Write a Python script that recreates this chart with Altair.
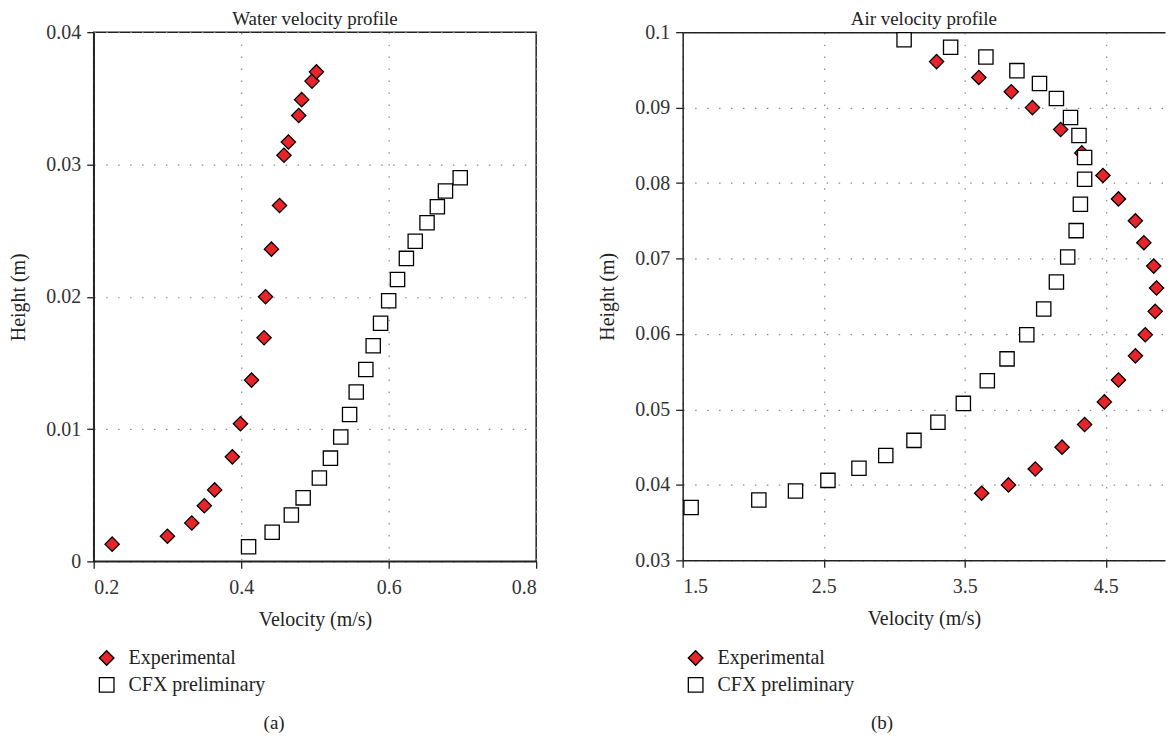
import altair as alt
import pandas as pd

# ---------------- data ----------------
series_names = ["Experimental", "CFX preliminary"]

# (a) Water velocity profile
water_exp_v = [0.225, 0.300, 0.333, 0.350, 0.364, 0.388, 0.399, 0.414, 0.431, 0.433,
               0.441, 0.452, 0.458, 0.464, 0.478, 0.482, 0.496, 0.502]
water_exp_h = [0.0013, 0.0019, 0.0029, 0.0042, 0.0054, 0.0079, 0.0104, 0.0137, 0.0169, 0.0200,
               0.0236, 0.0269, 0.0307, 0.0317, 0.0337, 0.0349, 0.0363, 0.0370]
water_cfx_v = [0.410, 0.442, 0.468, 0.484, 0.506, 0.521, 0.535, 0.547, 0.556, 0.569,
               0.579, 0.589, 0.600, 0.612, 0.624, 0.636, 0.652, 0.666, 0.677, 0.697]
water_cfx_h = [0.0011, 0.0022, 0.0035, 0.0048, 0.0063, 0.0078, 0.0094, 0.0111, 0.0128, 0.0145,
               0.0163, 0.0180, 0.0197, 0.0213, 0.0229, 0.0242, 0.0256, 0.0268, 0.0280, 0.0290]

# (b) Air velocity profile
air_exp_v = [3.30, 3.60, 3.83, 3.98, 4.18, 4.33, 4.48, 4.59, 4.71, 4.77, 4.84,
             4.86, 4.85, 4.78, 4.71, 4.59, 4.49, 4.35, 4.19, 4.00, 3.81, 3.62]
air_exp_h = [0.0961, 0.0940, 0.0921, 0.0900, 0.0871, 0.0840, 0.0810, 0.0779, 0.0750, 0.0721, 0.0690,
             0.0661, 0.0630, 0.0599, 0.0571, 0.0539, 0.0510, 0.0480, 0.0450, 0.0421, 0.0400, 0.0389]
air_cfx_v = [3.07, 3.40, 3.65, 3.87, 4.03, 4.15, 4.25, 4.31, 4.35, 4.35, 4.32, 4.29, 4.23, 4.15,
             4.06, 3.94, 3.80, 3.66, 3.49, 3.31, 3.14, 2.94, 2.75, 2.53, 2.30, 2.04, 1.56]
air_cfx_h = [0.0990, 0.0980, 0.0967, 0.0949, 0.0932, 0.0912, 0.0887, 0.0863, 0.0834, 0.0805, 0.0772,
             0.0737, 0.0702, 0.0669, 0.0633, 0.0599, 0.0567, 0.0538, 0.0508, 0.0483, 0.0459, 0.0439,
             0.0422, 0.0406, 0.0392, 0.0380, 0.0370]

water_x_ticks = [0.2, 0.4, 0.6, 0.8]
water_y_ticks = [0, 0.01, 0.02, 0.03, 0.04]
air_x_ticks = [1.5, 2.5, 3.5, 4.5]
air_y_ticks = [0.03, 0.04, 0.05, 0.06, 0.07, 0.08, 0.09, 0.1]

titles = ["Water velocity profile", "Air velocity profile"]
captions = ["(a)", "(b)"]


def frame(exp_v, exp_h, cfx_v, cfx_h):
    return pd.DataFrame({
        "v": exp_v + cfx_v,
        "h": exp_h + cfx_h,
        "series": [series_names[0]] * len(exp_v) + [series_names[1]] * len(cfx_v),
    })


water_df = frame(water_exp_v, water_exp_h, water_cfx_v, water_cfx_h)
air_df = frame(air_exp_v, air_exp_h, air_cfx_v, air_cfx_h)

FONT = "Liberation Serif"
RED = "#e8242b"
INK = "#222222"
GRID = "#8a8a8a"
LABEL_EXPR = "format(datum.value, '~g')"


def panel(df, xdom, ydom, xticks, yticks, width, height, title, caption, cap_x, full_box):
    xscale = alt.Scale(domain=xdom, nice=False, zero=False)
    yscale = alt.Scale(domain=ydom, nice=False, zero=False)
    legend = alt.Legend(
        orient="none", legendX=3, legendY=618, title=None,
        labelFont=FONT, labelFontSize=20, labelColor=INK, labelOffset=12,
        symbolSize=215, rowPadding=7, symbolOpacity=1, symbolStrokeWidth=1.3,
    )
    pts = alt.Chart(df).mark_point(filled=True, opacity=1, strokeWidth=1.3, size=205).encode(
        x=alt.X("v:Q", scale=xscale,
                axis=alt.Axis(values=xticks, labelExpr=LABEL_EXPR, title="Velocity (m/s)")),
        y=alt.Y("h:Q", scale=yscale,
                axis=alt.Axis(values=yticks, labelExpr=LABEL_EXPR, title="Height (m)")),
        shape=alt.Shape("series:N", scale=alt.Scale(domain=series_names, range=["diamond", "square"]),
                        legend=legend),
        fill=alt.Fill("series:N", scale=alt.Scale(domain=series_names, range=[RED, "white"]),
                      legend=legend),
        stroke=alt.Stroke("series:N", scale=alt.Scale(domain=series_names, range=["black", "black"]),
                          legend=legend),
    )
    cap = alt.Chart(pd.DataFrame({"c": [caption]})).mark_text(
        font=FONT, fontSize=19, color=INK, baseline="middle", align="center"
    ).encode(text="c:N", x=alt.value(cap_x), y=alt.value(693))
    layers = [pts, cap]
    if not full_box:
        top = alt.Chart(df).mark_rule(opacity=0).encode(
            x=alt.X("v:Q", scale=xscale,
                    axis=alt.Axis(orient="top", labels=False, ticks=False, grid=False, title=None,
                                  domainColor=INK, domainWidth=1.5, minExtent=0, maxExtent=0))
        )
        layers.append(top)
    ch = alt.layer(*layers)
    if not full_box:
        ch = ch.resolve_axis(x="independent")
    view = alt.ViewBackground(stroke=INK, strokeWidth=1.5) if full_box else alt.ViewBackground(stroke=None)
    return ch.properties(
        width=width, height=height,
        title=alt.TitleParams(title, font=FONT, fontSize=19, fontWeight="normal", color=INK,
                              anchor="middle", offset=-7),
        view=view,
    )


left = panel(water_df, [0.2, 0.8], [0, 0.04], water_x_ticks, water_y_ticks,
             444, 531, titles[0], captions[0], 181, True)
right = panel(air_df, [1.5, 4.92], [0.03, 0.1], air_x_ticks, air_y_ticks,
              484, 530, titles[1], captions[1], 200, False)

chart = alt.hconcat(left, right, spacing=60).resolve_scale(
    shape="independent", fill="independent", stroke="independent"
).resolve_legend(shape="independent", fill="independent", stroke="independent").properties(
    background="white", padding=0
).configure_axis(
    labelFont=FONT, labelFontSize=20, labelColor="#333333",
    titleFont=FONT, titleFontSize=20, titleFontWeight="normal", titleColor=INK,
    domainColor=INK, domainWidth=1.5, tickColor=INK, tickWidth=1.3, tickSize=7,
    gridColor=GRID, gridDash=[1.5, 10.5], gridWidth=1.2, gridOpacity=1,
).configure_axisX(labelPadding=9, titlePadding=12).configure_axisY(labelPadding=6, titlePadding=17)

chart.save("out.html", embed_options={"renderer": "svg", "actions": False})
